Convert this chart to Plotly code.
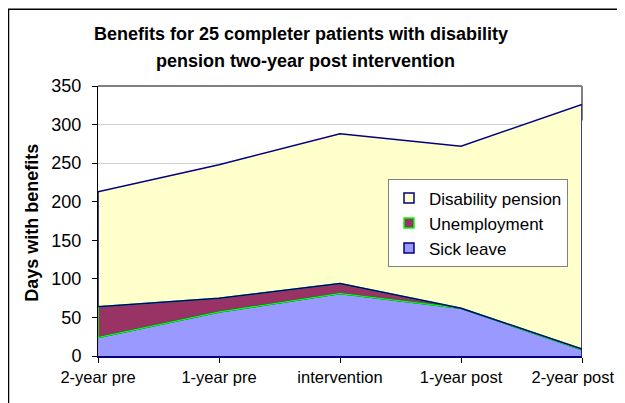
import numpy as np
import plotly.graph_objects as go

categories = ["2-year pre", "1-year pre", "intervention", "1-year post", "2-year post"]
sick_leave = [24, 57, 81, 62, 8]
unemployment = [40, 18, 13, 0, 1]
disability_pension = [149, 173, 194, 210, 317]
y_ticks = [0, 50, 100, 150, 200, 250, 300, 350]

NAVY = "#000080"
GREEN = "#00FF00"
FONT = "Liberation Sans, Arial, sans-serif"

s1 = np.array(sick_leave)
s2 = s1 + np.array(unemployment)
s3 = s2 + np.array(disability_pension)
xi = list(range(len(categories)))
# keep the last (edge) label inside the visible page by padding it on the right
tick_text = categories[:-1] + [categories[-1] + "\u00a0" * 4]

fig = go.Figure()
fig.add_trace(go.Scatter(x=xi, y=s1, mode="lines", fill="tozeroy", showlegend=False,
                         fillcolor="#9999FF", line=dict(color=NAVY, width=1.5)))
fig.add_trace(go.Scatter(x=xi, y=s2, mode="lines", fill="tonexty", showlegend=False,
                         fillcolor="#993366", line=dict(color=GREEN, width=1.5)))
fig.add_trace(go.Scatter(x=xi, y=s3, mode="lines", fill="tonexty", showlegend=False,
                         fillcolor="#FFFFCC", line=dict(color=NAVY, width=1.5)))
# outline overlays
fig.add_trace(go.Scatter(x=xi, y=s1, mode="lines", showlegend=False, line=dict(color=GREEN, width=1.5)))
fig.add_trace(go.Scatter(x=xi, y=s2, mode="lines", showlegend=False, line=dict(color=NAVY, width=1.5)))
fig.add_trace(go.Scatter(x=[xi[0], xi[0]], y=[s1[0], s2[0]], mode="lines", showlegend=False,
                         line=dict(color=GREEN, width=1.5)))
fig.add_trace(go.Scatter(x=[xi[0], xi[0]], y=[s2[0], s3[0]], mode="lines", showlegend=False,
                         line=dict(color=NAVY, width=1.5)))
fig.add_trace(go.Scatter(x=[xi[-1], xi[-1]], y=[0, s3[-1]], mode="lines", showlegend=False,
                         line=dict(color=NAVY, width=1.5)))
# legend entries (square swatches)
for name, fc, lc in [("Sick leave", "#9999FF", NAVY), ("Unemployment", "#993366", GREEN),
                     ("Disability pension", "#FFFFCC", NAVY)]:
    fig.add_trace(go.Scatter(x=[None], y=[None], mode="markers", name=name,
                             marker=dict(symbol="square", size=10, color=fc, line=dict(color=lc, width=1.5))))

# page has an 8px body margin: figure coordinates = page coordinates - 8
OFF = 8
W, H = 625 - OFF, 403 - OFF
L, R, T, B = 98 - OFF, 582 - OFF, 85.5 - OFF, 356 - OFF
pw, ph = R - L, B - T

def px(x):
    return (x - OFF - L) / pw

def py(y):
    return (B - (y - OFF)) / ph

fig.update_layout(
    width=W, height=H,
    margin=dict(l=L, r=W - R, t=T, b=H - B, autoexpand=False),
    paper_bgcolor="white", plot_bgcolor="white",
    font=dict(family=FONT, size=18, color="black"),
    hovermode=False,
    showlegend=True,
    legend=dict(x=px(388), y=py(179), xanchor="left", yanchor="top",
                traceorder="reversed", bgcolor="white", bordercolor="#808080", borderwidth=1,
                font=dict(family=FONT, size=17, color="black"),
                itemwidth=30, tracegroupgap=0),
    xaxis=dict(tickmode="array", tickvals=xi, ticktext=tick_text, range=[0, len(categories) - 1],
               showgrid=False, zeroline=False, showline=True, linecolor=NAVY, linewidth=2,
               ticks="outside", ticklen=5, tickcolor="black", automargin=False,
               ticklabeloverflow="allow",
               tickfont=dict(family=FONT, size=16.5, color="black")),
    yaxis=dict(range=[0, 350], tickvals=y_ticks, showgrid=True, gridcolor="#D0D0D0", gridwidth=1,
               zeroline=False, showline=True, linecolor="black", linewidth=1,
               ticks="outside", ticklen=5, tickcolor="black", automargin=False,
               ticklabelstandoff=7,
               tickfont=dict(family=FONT, size=18, color="black")),
    annotations=[
        dict(text="<b>Benefits for 25 completer patients with disability</b>", xref="paper", yref="paper",
             x=px(301), y=py(33), showarrow=False, xanchor="center", yanchor="middle",
             font=dict(family=FONT, size=18, color="black")),
        dict(text="<b>pension two-year post intervention</b>", xref="paper", yref="paper",
             x=px(305), y=py(60), showarrow=False, xanchor="center", yanchor="middle",
             font=dict(family=FONT, size=18, color="black")),
        dict(text="<b>Days with benefits</b>", xref="paper", yref="paper",
             x=px(32.5), y=py(223), textangle=-90, showarrow=False,
             xanchor="center", yanchor="middle",
             font=dict(family=FONT, size=18, color="black")),
    ],
    shapes=[
        dict(type="line", xref="paper", yref="paper", x0=0, x1=1, y0=1, y1=1,
             line=dict(color="#808080", width=2), layer="above"),
        dict(type="line", xref="paper", yref="paper", x0=1, x1=1, y0=py(120), y1=1,
             line=dict(color="#808080", width=2), layer="below"),
        dict(type="rect", xref="paper", yref="paper", x0=px(8.5), x1=px(640), y0=py(420), y1=py(8.5),
             line=dict(color="black", width=1.5), fillcolor="rgba(0,0,0,0)", layer="above"),
    ],
)

fig.write_html("out.html")
